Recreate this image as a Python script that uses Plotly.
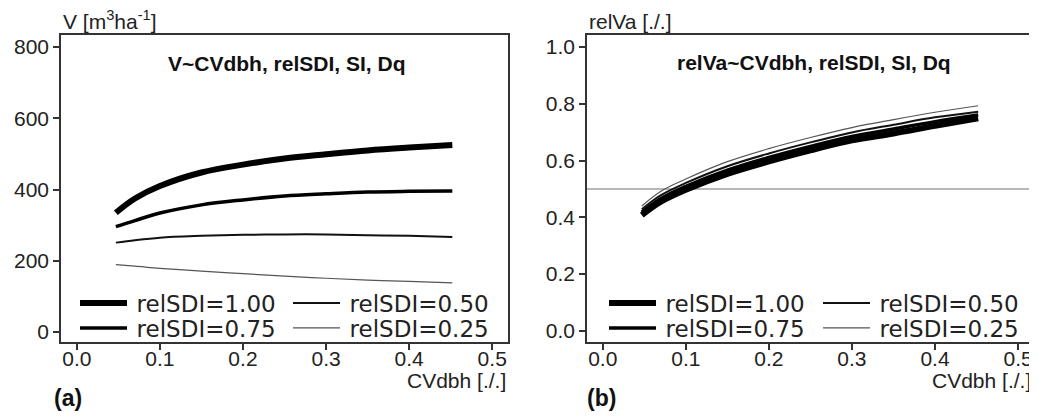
import plotly.graph_objects as go

# ---------------- data ----------------
cv_dbh = [0.047, 0.07, 0.10, 0.15, 0.20, 0.25, 0.30, 0.35, 0.40, 0.452]

v_rel100 = [335, 375, 410, 448, 470, 487, 499, 510, 518, 525]
v_rel075 = [296, 313, 334, 357, 371, 382, 388, 393, 395, 396]
v_rel050 = [251, 258, 265, 270, 273, 274, 274, 272, 270, 267]
v_rel025 = [189, 185, 179, 171, 164, 157, 151, 146, 142, 138]

relva_rel100 = [0.408, 0.455, 0.497, 0.553, 0.597, 0.636, 0.671, 0.695, 0.722, 0.749]
relva_rel075 = [0.418, 0.466, 0.509, 0.566, 0.611, 0.650, 0.685, 0.711, 0.737, 0.760]
relva_rel050 = [0.428, 0.478, 0.521, 0.580, 0.625, 0.664, 0.699, 0.726, 0.752, 0.772]
relva_rel025 = [0.440, 0.492, 0.535, 0.596, 0.642, 0.681, 0.716, 0.744, 0.770, 0.793]

series_names = ["relSDI=1.00", "relSDI=0.75", "relSDI=0.50", "relSDI=0.25"]
v_series = [v_rel100, v_rel075, v_rel050, v_rel025]
relva_series = [relva_rel100, relva_rel075, relva_rel050, relva_rel025]
relva_ref = 0.5

x_ticks = [0.0, 0.1, 0.2, 0.3, 0.4, 0.5]
v_ticks = [0, 200, 400, 600, 800]
relva_ticks = [0.0, 0.2, 0.4, 0.6, 0.8, 1.0]

# ---------------- style ----------------
widths = [6, 3.5, 2, 1.2]
colors = ["#000000", "#000000", "#111111", "#555555"]
tick_font = dict(family="Liberation Sans, Arial, sans-serif", size=21, color="#222222")
leg_font = dict(family="DejaVu Sans, sans-serif", size=23, color="#222222")
ax_col = "#333333"

# page has an 8px body margin: figure occupies screen px 8..8+W
OFF = 8
W, H = 1037 - OFF, 416 - OFF
BOX_L, BOX_R, BOX_T, BOX_B = 61, 1033, 35, 342   # screen px of plotting area
ml, mt = BOX_L - OFF, BOX_T - OFF
mr = (W + OFF) - BOX_R
mb = (H + OFF) - BOX_B
pw = BOX_R - BOX_L
ph = BOX_B - BOX_T
d1 = [0, (508 - BOX_L) / pw]
d2 = [(587 - BOX_L) / pw, 1.0]

fig = go.Figure()

# one legend per entry so that rows/columns can be placed like the original
leg_cols_left = [75, 75, 288, 288]
leg_cols_right = [604, 604, 818, 818]
leg_rows = [303, 328, 303, 328]

legend_layout = {}
k = 0
for panel, series, cols, xa, ya in [
    ("L", v_series, leg_cols_left, "x", "y"),
    ("R", relva_series, leg_cols_right, "x2", "y2"),
]:
    for i, name in enumerate(series_names):
        k += 1
        lname = "legend" if k == 1 else f"legend{k}"
        fig.add_trace(go.Scatter(
            x=cv_dbh, y=series[i], mode="lines", name="\u2009" + name,
            line=dict(color=colors[i], width=widths[i], shape="spline"),
            xaxis=xa, yaxis=ya, legend=lname, showlegend=True,
        ))
        legend_layout[lname] = dict(
            x=(cols[i] - BOX_L) / pw, xanchor="left",
            y=(BOX_B - leg_rows[i]) / ph, yanchor="middle",
            xref="paper", yref="paper", orientation="v",
            bgcolor="rgba(0,0,0,0)", borderwidth=0, font=leg_font,
            itemwidth=47)

fig.add_shape(type="line", xref="x2 domain", yref="y2", x0=0, x1=1,
              y0=relva_ref, y1=relva_ref, line=dict(color="#a0a0a0", width=1.5),
              layer="below")

axis_common = dict(showline=True, linecolor=ax_col, linewidth=1.5, mirror=True,
                   ticks="outside", ticklen=6, tickwidth=1.5, tickcolor=ax_col,
                   showgrid=False, zeroline=False, tickfont=tick_font)

fig.update_layout(
    width=W, height=H,
    margin=dict(l=ml, r=mr, t=mt, b=mb, autoexpand=False),
    paper_bgcolor="white", plot_bgcolor="white",
    xaxis=dict(domain=d1, range=[-0.019, 0.519], tickvals=x_ticks,
               ticktext=[f"{t:.1f}" for t in x_ticks], anchor="y",
               ticklabelstandoff=-9, **axis_common),
    yaxis=dict(domain=[0, 1], range=[-28, 834], tickvals=v_ticks, anchor="x", **axis_common),
    xaxis2=dict(domain=d2, range=[-0.019, 0.518], tickvals=x_ticks,
                ticktext=[f"{t:.1f}" for t in x_ticks], anchor="y2",
                ticklabelstandoff=-9, **axis_common),
    yaxis2=dict(domain=[0, 1], range=[-0.039, 1.042], tickvals=relva_ticks,
                ticktext=[f"{t:.1f}" for t in relva_ticks], anchor="x2", **axis_common),
    showlegend=True,
    **legend_layout,
)

ann_font = dict(family="Liberation Sans, Arial, sans-serif", size=21, color="#222222")
bold_font = dict(family="Liberation Sans, Arial, sans-serif", size=21, color="#111111")
lab_font = dict(family="Liberation Sans, Arial, sans-serif", size=23, color="#111111")
annots = [
    dict(text="V [m<sup>3</sup>ha<sup>-1</sup>]", xref="x domain", yref="y domain",
         x=0, y=1, xanchor="left", yanchor="bottom", font=ann_font, showarrow=False),
    dict(text="relVa [./.]", xref="x2 domain", yref="y2 domain",
         x=0, y=1, xanchor="left", yanchor="bottom", font=ann_font, showarrow=False),
    dict(text="<b>V~CVdbh, relSDI, SI, Dq</b>", xref="x domain", yref="y domain",
         x=0.505, y=0.906, xanchor="center", yanchor="middle", font=bold_font, showarrow=False),
    dict(text="<b>relVa~CVdbh, relSDI, SI, Dq</b>", xref="x2 domain", yref="y2 domain",
         x=0.51, y=0.91, xanchor="center", yanchor="middle", font=bold_font, showarrow=False),
    dict(text="CVdbh [./.]", xref="x domain", yref="y domain",
         x=1, y=-0.124, xanchor="right", yanchor="middle", font=ann_font, showarrow=False),
    dict(text="CVdbh [./.]", xref="x2 domain", yref="y2 domain",
         x=1, y=-0.124, xanchor="right", yanchor="middle", font=ann_font, showarrow=False),
    dict(text="<b>(a)</b>", xref="x domain", yref="y domain",
         x=-0.02, y=-0.182, xanchor="left", yanchor="middle", font=lab_font, showarrow=False),
    dict(text="<b>(b)</b>", xref="x2 domain", yref="y2 domain",
         x=-0.005, y=-0.182, xanchor="left", yanchor="middle", font=lab_font, showarrow=False),
]
fig.update_layout(annotations=annots)

fig.write_html("out.html")
